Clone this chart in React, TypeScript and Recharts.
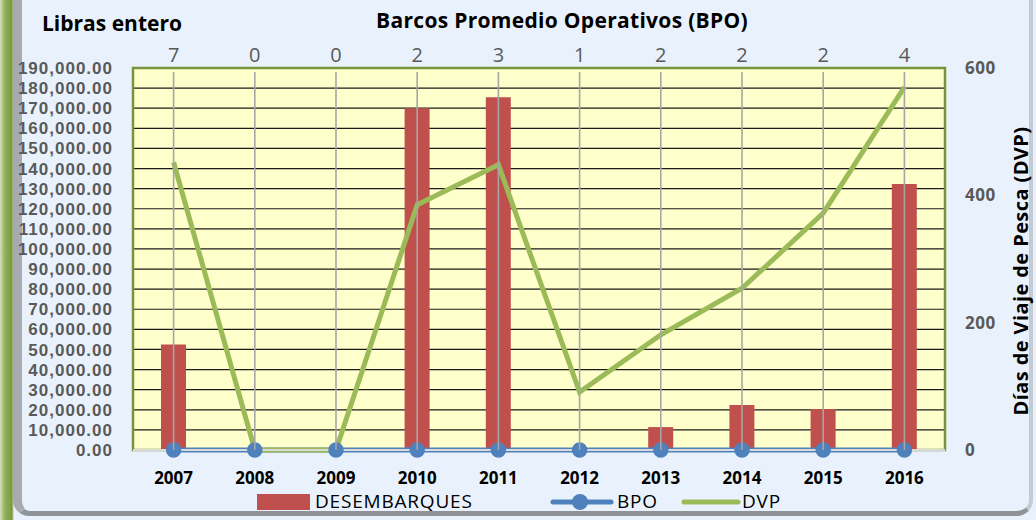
import React from 'react';
import {
  ComposedChart, Bar, Line, XAxis, YAxis, CartesianGrid, Legend, LabelList, ReferenceArea,
} from 'recharts';

const years = ['2007', '2008', '2009', '2010', '2011', '2012', '2013', '2014', '2015', '2016'];
const desembarques = [52500, 0, 0, 170000, 175500, 0, 11400, 22400, 20400, 132300];
const bpo = [7, 0, 0, 2, 3, 1, 2, 2, 2, 4];
const dvp = [452, 0, 0, 385, 448, 91, 181, 254, 372, 570];

const leftTicks = [0, 10000, 20000, 30000, 40000, 50000, 60000, 70000, 80000, 90000, 100000,
  110000, 120000, 130000, 140000, 150000, 160000, 170000, 180000, 190000];
const rightTicks = [0, 200, 400, 600];

const data = years.map((y, i) => ({
  year: y,
  DESEMBARQUES: desembarques[i],
  BPO: bpo[i],
  DVP: dvp[i],
}));

const W = 1036;
const H = 520;
const PLOT_TOP = 68;
const FONT = "'Open Sans', 'Noto Sans', sans-serif";
const TICK_FONT = "'Liberation Sans', Arial, sans-serif";

const fmtLeft = (v: number) =>
  v.toLocaleString('en-US', { minimumFractionDigits: 2, maximumFractionDigits: 2 });

const BpoLabel = (props: any) => {
  const { x, y, value } = props;
  if (x == null || y == null) return null;
  return (
    <g>
      <line x1={x} x2={x} y1={PLOT_TOP + 4} y2={y} stroke="#A6A6A6" strokeWidth={1.6} />
      <text x={x} y={PLOT_TOP - 6} textAnchor="middle" fill="#595959" fontSize={20} fontFamily={FONT}>
        {value}
      </text>
    </g>
  );
};

const RightLabel = () => (
  <text
    x={1020}
    y={271}
    transform="rotate(-90 1020 271)"
    textAnchor="middle"
    dominantBaseline="central"
    fontSize={20}
    fontWeight={700}
    fill="#000"
    fontFamily={FONT}
    letterSpacing={0.4}
  >
    Días de Viaje de Pesca (DVP)
  </text>
);

const renderLegend = () => (
  <div style={{ position: 'relative', width: W, height: 24, fontFamily: FONT, fontSize: 19, color: '#000', letterSpacing: 0.8 }}>
    <div style={{ position: 'absolute', left: 257, top: 4, width: 53, height: 16, background: '#C0504D' }} />
    <div style={{ position: 'absolute', left: 315, top: -2, lineHeight: '26px' }}>DESEMBARQUES</div>
    <svg style={{ position: 'absolute', left: 550, top: 0 }} width={64} height={24}>
      <line x1={3} x2={61} y1={12} y2={12} stroke="#4F81BD" strokeWidth={5} strokeLinecap="round" />
      <circle cx={30} cy={12} r={8} fill="#4F81BD" />
    </svg>
    <div style={{ position: 'absolute', left: 617, top: -2, lineHeight: '26px' }}>BPO</div>
    <svg style={{ position: 'absolute', left: 681, top: 0 }} width={60} height={24}>
      <line x1={3} x2={57} y1={12} y2={12} stroke="#9BBB59" strokeWidth={5} strokeLinecap="round" />
    </svg>
    <div style={{ position: 'absolute', left: 742, top: -2, lineHeight: '26px' }}>DVP</div>
  </div>
);

export default function App() {
  return (
    <div style={{ position: 'absolute', left: 0, top: 0, width: W, height: H, overflow: 'hidden', background: 'linear-gradient(to right, #D3E0BC 0px, #92B05A 5px, #7A9A3E 12px, #E9F2FC 14px)', fontFamily: FONT }}>
      <div
        style={{
          position: 'absolute', left: 13, top: -20, width: 1020, height: 536,
          boxSizing: 'border-box',
          background: '#E9F2FC',
          borderLeft: '9px solid #A7ABB0',
          borderRight: '4px solid #C6CBD1',
          borderBottom: '5px solid #8F9398',
          borderRadius: 16,
        }}
      />
      <div style={{ position: 'absolute', left: 42, top: 13, fontSize: 21, fontWeight: 700, lineHeight: 1, color: '#000', whiteSpace: 'nowrap' }}>
        Libras entero
      </div>
      <div style={{ position: 'absolute', left: 262, top: 10, width: 600, textAlign: 'center', fontSize: 21, fontWeight: 700, lineHeight: 1, color: '#000', whiteSpace: 'nowrap', letterSpacing: 0.3 }}>
        Barcos Promedio Operativos (BPO)
      </div>
      <div style={{ position: 'absolute', left: 0, top: 0 }}>
        <ComposedChart width={W} height={H} data={data} margin={{ top: PLOT_TOP, right: 0, bottom: 30, left: 0 }}>
          <CartesianGrid yAxisId="left" vertical={false} stroke="#1A1A1A" strokeWidth={1.2} fill="#FFFFCC" fillOpacity={1} />
          <XAxis
            dataKey="year"
            height={40}
            axisLine={{ stroke: '#D9D9D9', strokeWidth: 2 }}
            tickLine={false}
            tickMargin={16}
            tick={{ fill: '#000', fontSize: 17, fontWeight: 700, fontFamily: FONT }}
            interval={0}
          />
          <YAxis
            yAxisId="left"
            width={133}
            domain={[0, 190000]}
            ticks={leftTicks}
            tickFormatter={fmtLeft}
            axisLine={false}
            tickLine={false}
            tickMargin={14}
            interval={0}
            tick={{ fill: '#595959', fontSize: 17, fontWeight: 700, fontFamily: TICK_FONT, letterSpacing: 1 }}
          />
          <YAxis
            yAxisId="right"
            orientation="right"
            width={91}
            domain={[0, 600]}
            ticks={rightTicks}
            axisLine={false}
            tickLine={false}
            tickMargin={14}
            interval={0}
            tick={{ fill: '#595959', fontSize: 17, fontWeight: 700, fontFamily: FONT, textAnchor: 'start', letterSpacing: 0.5 }}
            label={{ content: RightLabel }}
          />
          <ReferenceArea yAxisId="left" y1={0} y2={190000} fill="none" stroke="#77933C" strokeWidth={2.5} ifOverflow="visible" />
          <Bar yAxisId="left" dataKey="DESEMBARQUES" fill="#C0504D" barSize={25} isAnimationActive={false} />
          <Line
            yAxisId="left"
            dataKey="BPO"
            stroke="#4F81BD"
            strokeWidth={5}
            dot={{ r: 7, fill: '#4F81BD', stroke: '#4F81BD', strokeWidth: 1.5 }}
            activeDot={false}
            isAnimationActive={false}
          >
            <LabelList dataKey="BPO" content={BpoLabel} />
          </Line>
          <Line
            yAxisId="right"
            dataKey="DVP"
            stroke="#9BBB59"
            strokeWidth={5}
            dot={false}
            activeDot={false}
            isAnimationActive={false}
          />
          <Legend
            layout="horizontal"
            verticalAlign="middle"
            align="center"
            content={renderLegend}
            wrapperStyle={{ position: 'absolute', top: 490, left: 0, width: W, height: 24 }}
          />
        </ComposedChart>
      </div>
    </div>
  );
}
